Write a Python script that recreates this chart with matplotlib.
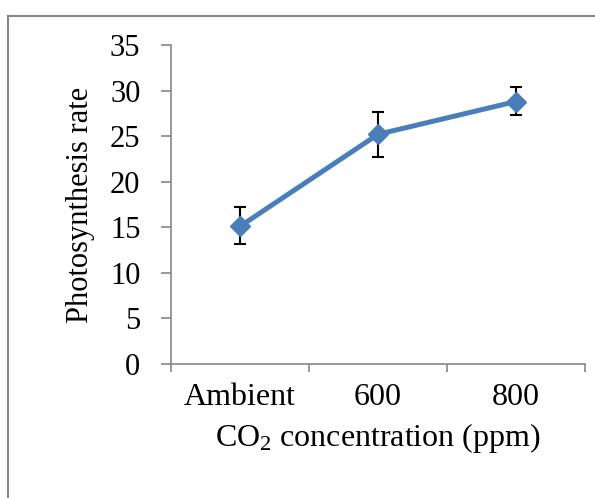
import numpy as np
import matplotlib.pyplot as plt
from matplotlib.lines import Line2D

plt.rcParams["font.family"] = ["Liberation Serif", "DejaVu Serif"]
plt.rcParams["mathtext.fontset"] = "custom"
plt.rcParams["mathtext.rm"] = "Liberation Serif"
plt.rcParams["mathtext.it"] = "Liberation Serif:italic"

# data
categories = ["Ambient", "600", "800"]
rate = [15.1, 25.2, 28.8]
err_low = [1.9, 2.5, 1.5]
err_high = [2.1, 2.5, 1.6]

fs = 22

fig = plt.figure(figsize=(5.95, 4.98), dpi=100)
ax = fig.add_axes([171 / 595, 1 - 364 / 498, 414 / 595, 319 / 498])

x = np.arange(len(categories)) + 0.5
ax.errorbar(x, rate, yerr=[err_low, err_high], fmt="none", ecolor="black",
            elinewidth=1.5, capsize=4.5, capthick=1.5, zorder=2)
ax.plot(x, rate, color="#4a7ebb", lw=3.6, marker="D", markersize=10,
        markeredgecolor="#4a7ebb", zorder=3)

ax.set_xlim(0, 3)
ax.set_ylim(0, 35)
ax.set_yticks(np.arange(0, 36, 5))
ax.set_xticks([0, 1, 2, 3])
ax.set_xticklabels([])
ax.set_xticks(x, minor=True)
ax.set_xticklabels(categories, minor=True)
ax.tick_params(axis="x", which="minor", length=0, pad=14, labelsize=23)
ax.tick_params(axis="x", which="major", length=6, width=1.2, color="#868686", direction="out")
ax.tick_params(axis="y", length=7, width=1.2, color="#868686", pad=15, labelsize=fs)

for s in ["top", "right"]:
    ax.spines[s].set_visible(False)
for s in ["left", "bottom"]:
    ax.spines[s].set_color("#868686")
    ax.spines[s].set_linewidth(1.2)

ax.set_ylabel("Photosynthesis rate", fontsize=fs)
ax.yaxis.set_label_coords(-0.183, 0.5)
ax.set_xlabel("CO$_2$ concentration (ppm)", fontsize=23)
ax.xaxis.set_label_coords(0.5, -0.18)

# chart area border (Excel style)
fig.add_artist(Line2D([8 / 595, 1], [1 - 16 / 498] * 2, color="#868686", lw=1.5))
fig.add_artist(Line2D([8 / 595] * 2, [0, 1 - 16 / 498], color="#868686", lw=1.5))

fig.savefig("out.png", dpi=100)
